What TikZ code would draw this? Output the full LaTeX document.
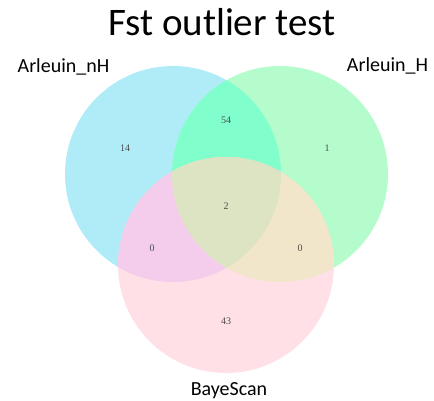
\documentclass[tikz,border=0pt]{standalone}
\usepackage{fontspec}
\setmainfont{Carlito}
\newfontfamily\numfont{Liberation Serif}
\definecolor{nHcol}{HTML}{B0ECF8}
\definecolor{Hcol}{HTML}{B4FCCC}
\definecolor{Bcol}{HTML}{FEE0E6}
\definecolor{nHHcol}{HTML}{80FFCC}
\definecolor{nHBcol}{HTML}{F4CCEC}
\definecolor{HBcol}{HTML}{F2E6CA}
\definecolor{allcol}{HTML}{DCE4C4}
\tikzset{
  setlabel/.style={font=\fontsize{20}{24}\selectfont, anchor=base},
  count/.style={font=\numfont\fontsize{10}{12}\selectfont, text=black!70}
}

\begin{document}
\begin{tikzpicture}[x=1pt,y=-1pt]
            \useasboundingbox (0,0) rectangle (434,400);
            \def\rad{108pt}
            \coordinate (cnH) at (173,174);
            \coordinate (cH) at (280,174);
            \coordinate (cB) at (226,265);
            \fill[nHcol] (cnH) circle (\rad);
            \fill[Hcol] (cH) circle (\rad);
            \fill[Bcol] (cB) circle (\rad);
            % pairwise overlaps
            \begin{scope} \clip (cnH) circle (\rad); \fill[nHHcol] (cH) circle (\rad); \end{scope}
            \begin{scope} \clip (cnH) circle (\rad); \fill[nHBcol] (cB) circle (\rad); \end{scope}
            \begin{scope} \clip (cH) circle (\rad); \fill[HBcol] (cB) circle (\rad); \end{scope}
            % centre
            \begin{scope} \clip (cnH) circle (\rad); \clip (cH) circle (\rad); \fill[allcol] (cB) circle (\rad); \end{scope}
            \node (title) at (222,22) {\fontsize{39}{46}\selectfont Fst outlier test};
            \node[setlabel] (lnH) at (63.5,72.5) {Arleuin\_nH};
            \node[setlabel] (lH) at (387.5,71) {Arleuin\_H};
            \node[setlabel] (lB) at (229,395) {BayeScan};
            \node[count] (n14) at (125,148) {14};
            \node[count] (n54) at (226,120) {54};
            \node[count] (n1) at (327,148) {1};
            \node[count] (n2) at (226,206) {2};
            \node[count] (n0l) at (152,248) {0};
            \node[count] (n0r) at (300,248) {0};
            \node[count] (n43) at (226,321) {43};
        \end{tikzpicture}
\end{document}
